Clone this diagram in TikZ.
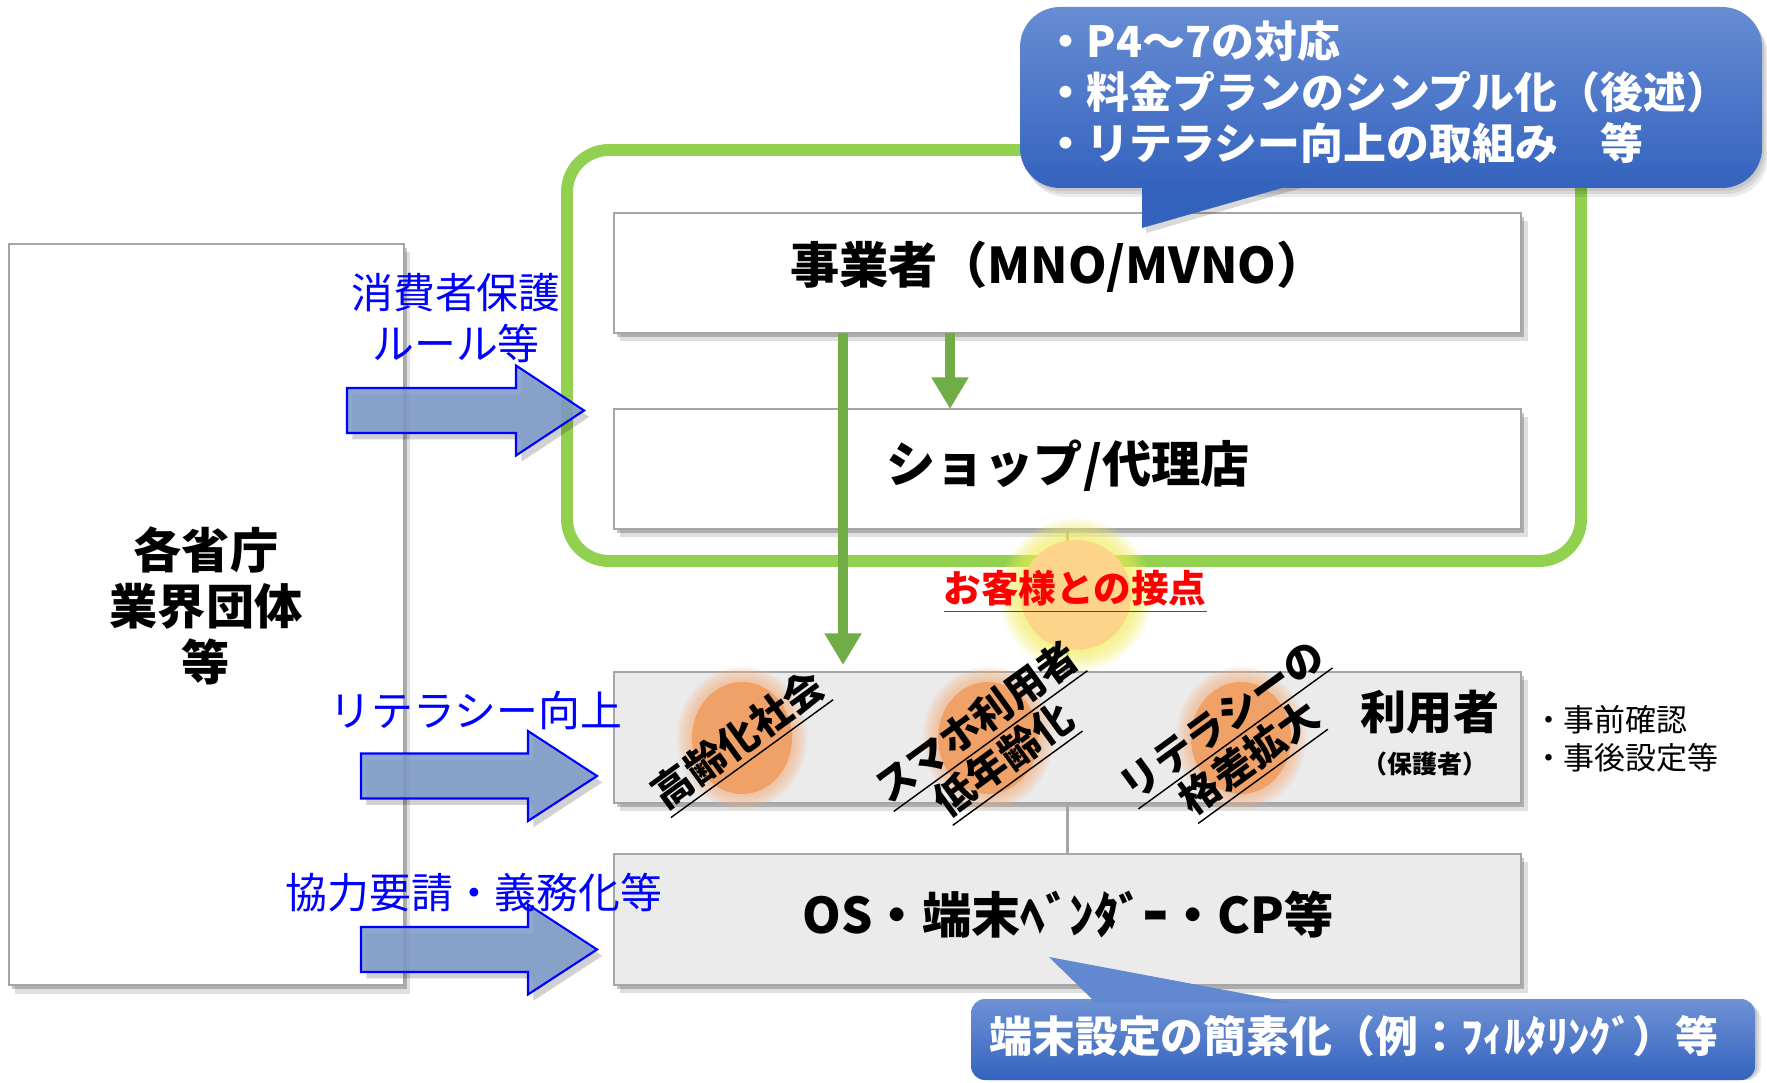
\documentclass[tikz,border=0pt]{standalone}
\usepackage{fontspec}
\setmainfont{Noto Sans CJK JP}
\usetikzlibrary{arrows.meta,shadows}
\definecolor{gbord}{HTML}{92D050}
\definecolor{garrow}{HTML}{70AD47}
\definecolor{bxgray}{HTML}{A6A6A6}
\definecolor{bxfill}{HTML}{EBEBEB}
\definecolor{barfill}{HTML}{7F9BC9}
\definecolor{lblue}{HTML}{0000FF}
\definecolor{cotop}{HTML}{678CD3}
\definecolor{cobot}{HTML}{3463BE}
\definecolor{orcore}{HTML}{F09C5E}
\definecolor{orhalo}{HTML}{F5B07E}
\definecolor{glcore}{HTML}{FDD48A}
\definecolor{glhalo}{HTML}{F2EE5A}
\newcommand\fsz[2]{\fontsize{#1}{#2}\selectfont}
\newcommand\blockarrow[4]{%
  \draw[barrow] (#1,#2-22.5) -- (#3,#2-22.5) -- (#3,#2-45) -- (#4,#2) -- (#3,#2+45) -- (#3,#2+22.5) -- (#1,#2+22.5) -- cycle;}
\begin{document}
\begin{tikzpicture}[x=0.01cm, y=-0.01cm,
  every node/.style={inner sep=0pt, outer sep=0pt},
  panel/.style={draw=bxgray, line width=0.6pt, minimum width=9.07cm,
    general shadow={fill=black, opacity=0.22, shadow xshift=0.9pt, shadow yshift=-1.2pt},
    general shadow={fill=black, opacity=0.12, shadow xshift=1.8pt, shadow yshift=-2.4pt}},
  boxtext/.style={font=\bfseries\fsz{14pt}{16pt}},
  blab/.style={text=lblue, font=\fsz{11.9pt}{14.5pt}, align=center},
  rot/.style={rotate=36, font=\bfseries\fsz{11.4pt}{13.1pt}, align=center},
  barrow/.style={fill=barfill, fill opacity=0.88, draw=lblue, line width=0.6pt,
    general shadow={fill=black, opacity=0.18, shadow xshift=1.5pt, shadow yshift=-1.8pt}},
  garr/.style={draw=garrow, line width=2.85pt, -{Triangle[width=10pt,length=9pt]}},
  conn/.style={draw=bxgray, line width=1.1pt},
  cotext/.style={text=white, font=\bfseries\fsz{12.2pt}{14.5pt}, align=left}
]
\useasboundingbox (0,0) rectangle (1767,1082);
\fill[white] (0,0) rectangle (1767,1082);

% green frame
\draw[gbord, line width=3.4pt, rounded corners=0.42cm] (567,150) rectangle (1581,561);

% left box
\node[panel, fill=white, minimum width=3.95cm, minimum height=7.41cm] (gov) at (206.5,614.5) {};
\node[font=\bfseries\fsz{13.7pt}{15.9pt}, align=center] (govt) at (206,606) {各省庁\\業界団体\\等};

% main boxes
\node[panel, fill=white, minimum height=1.2cm] (biz) at (1067.5,273) {};
\node[panel, fill=white, minimum height=1.2cm] (shop) at (1067.5,469) {};
\node[panel, fill=bxfill, minimum height=1.31cm] (user) at (1067.5,737.5) {};
\node[panel, fill=bxfill, minimum height=1.31cm] (os) at (1067.5,919.5) {};

% gray connectors
\draw[conn] (shop.south) -- (user.north);
\draw[conn] (user.south) -- (os.north);

% orange glows on user box
\foreach \cx in {742,988,1241}{
  \foreach \i in {0,...,6}
    \fill[orhalo, opacity=0.14] (\cx,738) ellipse [x radius={0.5cm+\i*0.025cm}, y radius={0.56cm+\i*0.025cm}];
  \fill[orcore, opacity=0.85] (\cx,738) ellipse [x radius=0.5cm, y radius=0.56cm];
}

% central glow
\foreach \i in {0,...,7}
  \fill[glhalo, opacity=0.14] (1076,595) circle [radius={0.55cm+\i*0.03cm}];
\fill[glcore] (1076,595) circle [radius=0.55cm];

% block arrows
\blockarrow{347}{410.5}{516}{584}
\blockarrow{361}{776}{528}{597}
\blockarrow{361}{949.5}{528}{597}

% green arrows
\coordinate (gx1) at (843,0);
\coordinate (gx2) at (950,0);
\draw[garr, shorten >=2pt] (biz.south -| gx1) -- (user.north -| gx1);
\draw[garr] (biz.south -| gx2) -- (shop.north -| gx2);

% texts
\node[blab] (l1) at (456,318) {消費者保護\\ルール等};
\node[blab] (l2) at (476,711) {リテラシー向上};
\node[blab] (l3) at (474,893) {協力要請・義務化等};

\node[boxtext] (bizt) at (1058,267) {事業者（MNO/MVNO）};
\node[boxtext] (shopt) at (1068,466) {ショップ/代理店};
\node[boxtext] (ost) at (1068,915) {OS・端末ﾍﾞﾝﾀﾞｰ・CP等};

\node[rot] (t1) at (740,742) {\underline{高齢化社会}};
\node[rot] (t2) at (992,743) {\underline{スマホ利用者}\\\underline{低年齢化}};
\node[rot] (t3) at (1238,742) {\underline{リテラシーの}\\\underline{格差拡大}};

\node[font=\bfseries\fsz{13.1pt}{15pt}] (usert) at (1430,712) {利用者};
\node[font=\bfseries\fsz{7.1pt}{9pt}] (userp) at (1425,764) {（保護者）};
\node[font=\fsz{8.8pt}{10.8pt}, align=left, anchor=west] (side) at (1533,739) {・事前確認\\・事後設定等};

\node[text=red, font=\bfseries\fsz{10.7pt}{12pt}] (touch) at (1075,592) {\underline{お客様との接点}};

% top callout
\foreach \i in {1,2,3}
  \fill[black, opacity=0.08, rounded corners=0.4cm] (1020+2*\i,7+3*\i) rectangle (1762+2*\i,188+3*\i);
\fill[black, opacity=0.15] (1146,180) -- (1146,233) -- (1315,184) -- cycle;
\shade[top color=cotop, bottom color=cobot, rounded corners=0.4cm] (1020,7) rectangle (1762,188);
\fill[cobot] (1142,180) -- (1142,228) -- (1310,180) -- cycle;
\node[cotext, anchor=west] (co1t) at (1044,92) {・P4～7の対応\\・料金プランのシンプル化（後述）\\・リテラシー向上の取組み　等};

% bottom callout
\foreach \i in {1,2,3}
  \fill[black, opacity=0.08, rounded corners=0.14cm] (971+2*\i,999+2*\i) rectangle (1755+2*\i,1080);
\fill[black, opacity=0.15] (1100,1005) -- (1053,961) -- (1298,1005) -- cycle;
\shade[top color=cotop!95!white, bottom color=cobot, rounded corners=0.14cm] (971,999) rectangle (1755,1080);
\fill[cotop!90!cobot] (1096,1003) -- (1049,957) -- (1294,1003) -- cycle;
\node[text=white, font=\bfseries\fsz{12.2pt}{14pt}] (co2t) at (1354,1036) {端末設定の簡素化（例：ﾌｨﾙﾀﾘﾝｸﾞ）等};
\end{tikzpicture}
\end{document}
